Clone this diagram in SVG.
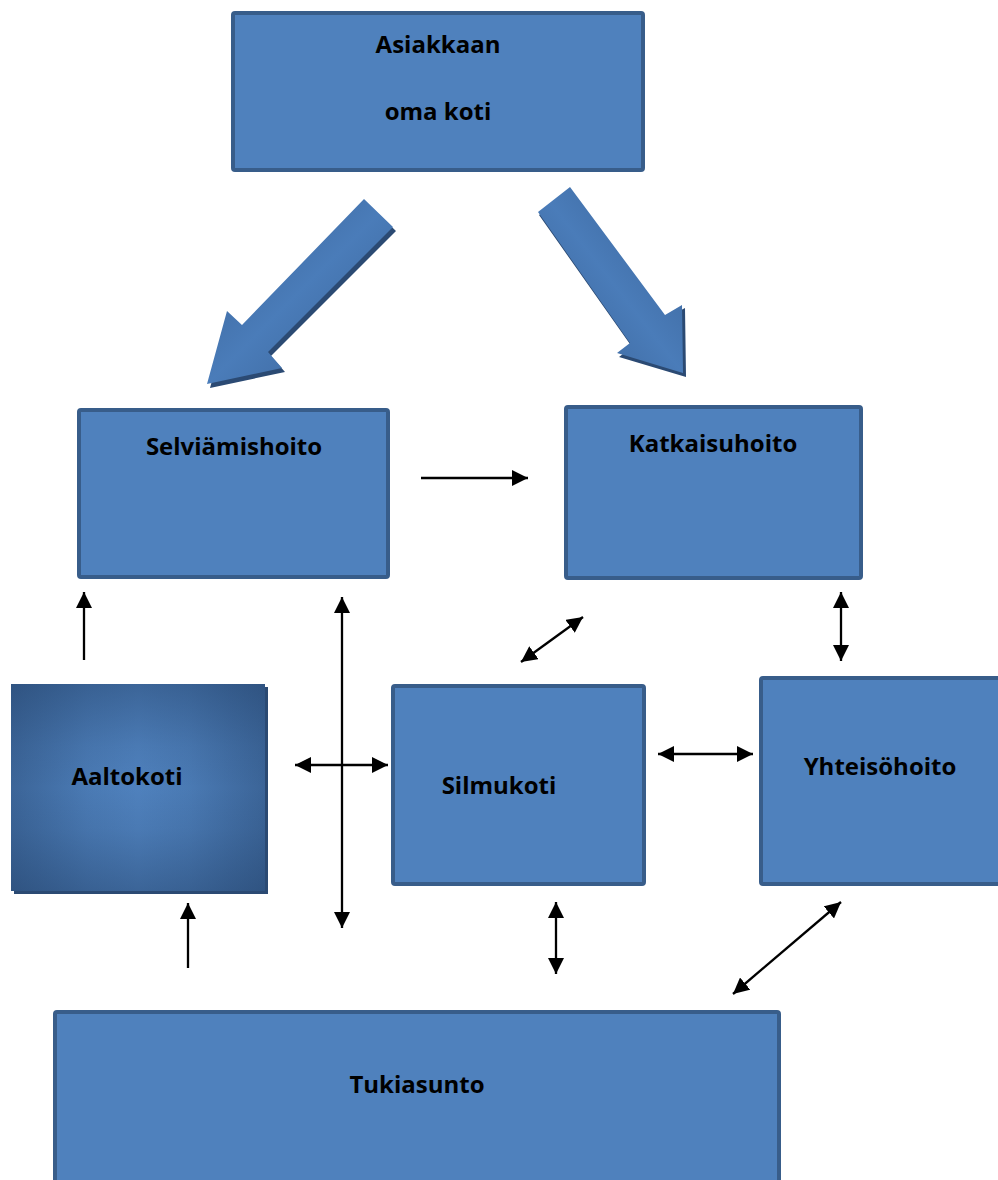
<svg xmlns="http://www.w3.org/2000/svg" width="998" height="1180" viewBox="0 0 998 1180">
<defs>
<style>
.box{fill:#4f81bd;stroke:#385d8a;stroke-width:4}
.lbl{font-family:"Open Sans","DejaVu Sans",sans-serif;font-weight:bold;font-size:24px;fill:#000;text-anchor:middle}
.con{stroke:#000;stroke-width:2.3;fill:none}
.shadow{fill:#2b4a73}
</style>
<marker id="ah" markerUnits="userSpaceOnUse" markerWidth="16" markerHeight="16" refX="16" refY="8" orient="auto-start-reverse">
<path d="M0,0 L16,8 L0,16 z" fill="#000"/>
</marker>
<linearGradient id="gL" x1="0" y1="0" x2="1" y2="1">
<stop offset="0" stop-color="#375f93"/>
<stop offset="0.5" stop-color="#4a7cb9"/>
<stop offset="1" stop-color="#375f93"/>
</linearGradient>
<linearGradient id="gR" x1="1" y1="0" x2="0" y2="1">
<stop offset="0" stop-color="#375f93"/>
<stop offset="0.5" stop-color="#4a7cb9"/>
<stop offset="1" stop-color="#375f93"/>
</linearGradient>
<linearGradient id="gH" x1="0" y1="0" x2="1" y2="0">
<stop offset="0" stop-color="#1e3a60" stop-opacity="0.4"/>
<stop offset="0.3" stop-color="#1e3a60" stop-opacity="0.1"/>
<stop offset="0.5" stop-color="#1e3a60" stop-opacity="0"/>
<stop offset="0.7" stop-color="#1e3a60" stop-opacity="0.1"/>
<stop offset="1" stop-color="#1e3a60" stop-opacity="0.4"/>
</linearGradient>
<linearGradient id="gV" x1="0" y1="0" x2="0" y2="1">
<stop offset="0" stop-color="#1e3a60" stop-opacity="0.4"/>
<stop offset="0.3" stop-color="#1e3a60" stop-opacity="0.1"/>
<stop offset="0.5" stop-color="#1e3a60" stop-opacity="0"/>
<stop offset="0.7" stop-color="#1e3a60" stop-opacity="0.1"/>
<stop offset="1" stop-color="#1e3a60" stop-opacity="0.4"/>
</linearGradient>
</defs>
<rect width="998" height="1180" fill="#fff"/>

<g id="koti">
<rect class="box" x="233" y="13" width="410" height="157" rx="2"/>
<text class="lbl" x="438" y="53">Asiakkaan</text>
<text class="lbl" x="438" y="120">oma koti</text>
</g>

<g id="bigarrows">
<polygon class="shadow" points="367,203 396,231 271,356 285,372 210,388 230,315 245,329"/>
<polygon fill="url(#gL)" points="364,199 393,227 268,352 282,368 207,384 227,311 242,325"/>
<polygon class="shadow" points="571,190 666,318 685,308 686,377 619,357 632,347 539,215"/>
<polygon fill="url(#gR)" points="570,187 665,315 682,305 683,373 617,353 630,343 538,212"/>
</g>

<g id="selviamishoito">
<rect class="box" x="79" y="410" width="309" height="167" rx="2"/>
<text class="lbl" x="234" y="455">Selviämishoito</text>
</g>

<g id="katkaisuhoito">
<rect class="box" x="566" y="407" width="295" height="171" rx="2"/>
<text class="lbl" x="713" y="452">Katkaisuhoito</text>
</g>

<g id="aaltokoti">
<rect class="shadow" x="14" y="687" width="254" height="207"/>
<rect x="11" y="684" width="254" height="207" fill="#4f81bd"/>
<rect x="11" y="684" width="254" height="207" fill="url(#gH)"/>
<rect x="11" y="684" width="254" height="207" fill="url(#gV)"/>
<text class="lbl" x="127" y="785">Aaltokoti</text>
</g>

<g id="silmukoti">
<rect class="box" x="393" y="686" width="251" height="198" rx="2"/>
<text class="lbl" x="499" y="794">Silmukoti</text>
</g>

<g id="yhteisohoito">
<rect class="box" x="761" y="678" width="250" height="206" rx="2"/>
<text class="lbl" x="880" y="775">Yhteisöhoito</text>
</g>

<g id="tukiasunto">
<rect class="box" x="55" y="1012" width="724" height="200" rx="2"/>
<text class="lbl" x="417" y="1093">Tukiasunto</text>
</g>

<g id="connectors">
<line class="con" x1="421" y1="478" x2="528" y2="478" marker-end="url(#ah)"/>
<line class="con" x1="84" y1="660" x2="84" y2="592" marker-end="url(#ah)"/>
<line class="con" x1="188" y1="968" x2="188" y2="903" marker-end="url(#ah)"/>
<line class="con" x1="342" y1="597" x2="342" y2="928" marker-start="url(#ah)" marker-end="url(#ah)"/>
<line class="con" x1="295" y1="765" x2="388" y2="765" marker-start="url(#ah)" marker-end="url(#ah)"/>
<line class="con" x1="521" y1="662" x2="583" y2="617" marker-start="url(#ah)" marker-end="url(#ah)"/>
<line class="con" x1="841" y1="592" x2="841" y2="661" marker-start="url(#ah)" marker-end="url(#ah)"/>
<line class="con" x1="658" y1="754" x2="753" y2="754" marker-start="url(#ah)" marker-end="url(#ah)"/>
<line class="con" x1="556" y1="902" x2="556" y2="974" marker-start="url(#ah)" marker-end="url(#ah)"/>
<line class="con" x1="841" y1="902" x2="733" y2="994" marker-start="url(#ah)" marker-end="url(#ah)"/>
</g>
</svg>
